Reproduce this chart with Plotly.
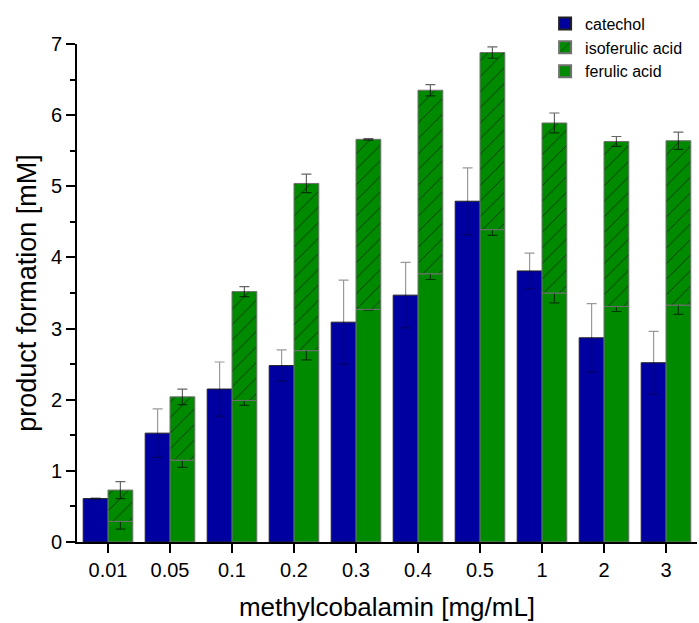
import plotly.graph_objects as go

categories = ["0.01", "0.05", "0.1", "0.2", "0.3", "0.4", "0.5", "1", "2", "3"]
catechol = [0.61, 1.53, 2.15, 2.48, 3.09, 3.47, 4.79, 3.81, 2.87, 2.52]
catechol_err = [0.01, 0.34, 0.38, 0.22, 0.59, 0.46, 0.47, 0.25, 0.48, 0.44]
ferulic = [0.29, 1.15, 1.99, 2.69, 3.27, 3.77, 4.39, 3.50, 3.31, 3.33]
ferulic_err = [0.11, 0.10, 0.07, 0.13, 0.01, 0.08, 0.08, 0.14, 0.07, 0.13]
isoferulic = [0.44, 0.89, 1.53, 2.35, 2.39, 2.58, 2.49, 2.39, 2.32, 2.31]
isoferulic_err = [0.12, 0.11, 0.07, 0.13, 0.01, 0.08, 0.08, 0.14, 0.07, 0.12]

BLUE = "rgb(0,0,160)"
GREEN = "rgb(0,138,0)"
FONT = "Liberation Sans, Arial, sans-serif"

fig = go.Figure()

fig.add_trace(go.Bar(
    x=categories, y=catechol, name="catechol",
    offset=-0.4, width=0.4,
    marker=dict(color=BLUE, line=dict(color="#202020", width=1)),
    error_y=dict(type="data", array=catechol_err, visible=True,
                 color="rgba(0,0,0,0.4)", thickness=1.2, width=5),
    legendrank=1,
))
fig.add_trace(go.Bar(
    x=categories, y=ferulic, name="ferulic acid",
    offset=0, width=0.4,
    marker=dict(color=GREEN, line=dict(color="#707070", width=1)),
    error_y=dict(type="data", array=ferulic_err, visible=True,
                 color="rgba(0,0,0,0.6)", thickness=1.2, width=5),
    legendrank=3,
))
fig.add_trace(go.Bar(
    x=categories, y=isoferulic, base=ferulic, name="isoferulic acid",
    offset=0, width=0.4,
    marker=dict(color=GREEN, line=dict(color="#707070", width=1),
                pattern=dict(shape="/", bgcolor=GREEN, fgcolor="#103010",
                             size=11, solidity=0.08, fillmode="replace")),
    error_y=dict(type="data", array=isoferulic_err, visible=True,
                 color="rgba(0,0,0,0.6)", thickness=1.2, width=5),
    legendrank=2,
))

fig.update_layout(
    width=699, height=623,
    barmode="overlay",
    paper_bgcolor="white", plot_bgcolor="white",
    margin=dict(l=77, r=2, t=44, b=81),
    font=dict(family=FONT, color="black", size=20),
    legend=dict(x=0.755, y=1.075, xanchor="left", yanchor="top",
                font=dict(size=16, family=FONT), bgcolor="rgba(0,0,0,0)",
                tracegroupgap=0, itemsizing="constant"),
    showlegend=True,
)
fig.update_xaxes(
    type="category", range=[-0.5, 9.5],
    showline=True, linecolor="black", linewidth=2,
    ticks="outside", ticklen=9, tickwidth=2, tickcolor="black",
    tickfont=dict(size=20),
    showgrid=False, zeroline=False,
    title=dict(text="methylcobalamin [mg/mL]", font=dict(size=26), standoff=18),
)
fig.update_yaxes(
    range=[0, 7], dtick=1,
    showline=True, linecolor="black", linewidth=2,
    ticks="outside", ticklen=9, tickwidth=2, tickcolor="black",
    tickfont=dict(size=20),
    minor=dict(dtick=0.5, ticks="outside", ticklen=5, tickwidth=2, tickcolor="black"),
    showgrid=False, zeroline=False,
    title=dict(text="product formation [mM]", font=dict(size=27), standoff=6),
)

fig.write_html("out.html")
